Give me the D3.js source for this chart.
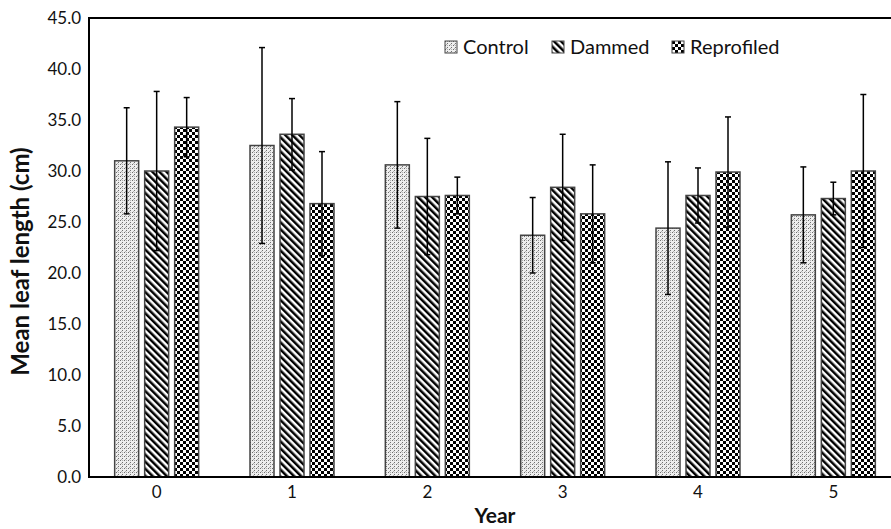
<!DOCTYPE html>
<html>
<head>
<meta charset="utf-8">
<script src="https://cdn.jsdelivr.net/npm/d3@7"></script>
<style>
  body { margin: 0; background: #fff; }
  svg { display: block; font-family: Lato, "Open Sans", sans-serif; }
</style>
</head>
<body>
<div id="chart"></div>
<script>
// chart values
var years = ["0", "1", "2", "3", "4", "5"];
var seriesNames = ["Control", "Dammed", "Reprofiled"];
var control = [31.0, 32.5, 30.6, 23.7, 24.4, 25.7];
var controlErr = [5.2, 9.6, 6.2, 3.7, 6.5, 4.7];
var dammed = [30.0, 33.6, 27.5, 28.4, 27.6, 27.3];
var dammedErr = [7.8, 3.5, 5.7, 5.2, 2.7, 1.6];
var reprofiled = [34.3, 26.8, 27.6, 25.8, 29.9, 30.0];
var reprofiledErr = [2.9, 5.1, 1.8, 4.8, 5.4, 7.5];
var yTicks = [0, 5, 10, 15, 20, 25, 30, 35, 40, 45];

var canvas_width = 891;
var canvas_height = 529;
var left = 89, top_ = 18, right = 901, bottom = 477;

var svg = d3.select("#chart")
    .append("svg")
    .attr("width", canvas_width)
    .attr("height", canvas_height);

// fill patterns
var defs = svg.append("defs");

var stip = defs.append("pattern")
    .attr("id", "pat-Control")
    .attr("patternUnits", "userSpaceOnUse")
    .attr("width", 4).attr("height", 4);
stip.append("rect").attr("width", 4).attr("height", 4).attr("fill", "#eeeeee");
[[0, 0], [2, 2], [2, 0], [1, 3]].forEach(function(p, i) {
  stip.append("rect").attr("x", p[0]).attr("y", p[1])
    .attr("width", 1).attr("height", 1)
    .attr("fill", i < 2 ? "#6e6e6e" : "#b0b0b0");
});

var diag = defs.append("pattern")
    .attr("id", "pat-Dammed")
    .attr("patternUnits", "userSpaceOnUse")
    .attr("width", 5).attr("height", 10)
    .attr("patternTransform", "rotate(-45)");
diag.append("rect").attr("width", 5).attr("height", 10).attr("fill", "#fff");
diag.append("rect").attr("width", 2.5).attr("height", 10).attr("fill", "#000");

var chk = defs.append("pattern")
    .attr("id", "pat-Reprofiled")
    .attr("patternUnits", "userSpaceOnUse")
    .attr("width", 6).attr("height", 6);
chk.append("rect").attr("width", 6).attr("height", 6).attr("fill", "#fff");
chk.append("rect").attr("width", 3).attr("height", 3).attr("fill", "#000");
chk.append("rect").attr("x", 3).attr("y", 3).attr("width", 3).attr("height", 3).attr("fill", "#000");

// scales
var x = d3.scaleBand().domain(years).range([left, right]).padding(0);
var xSub = d3.scaleBand().domain(seriesNames)
    .range([-42, 42]).paddingInner(0.2).paddingOuter(0);
var y = d3.scaleLinear().domain([0, 45]).range([bottom, top_]);

var valueSets = [control, dammed, reprofiled];
var errSets = [controlErr, dammedErr, reprofiledErr];

var data = [];
years.forEach(function(yr, i) {
  seriesNames.forEach(function(s, j) {
    data.push({ year: yr, series: s, value: valueSets[j][i], err: errSets[j][i] });
  });
});

// plot frame
svg.append("rect")
    .attr("x", left).attr("y", top_)
    .attr("width", right - left).attr("height", bottom - top_)
    .attr("fill", "none")
    .attr("stroke", "#000")
    .attr("stroke-width", 2);

// bars
svg.selectAll(".bar")
    .data(data)
  .enter().append("rect")
    .attr("class", "bar")
    .attr("x", function(d) { return x(d.year) + x.bandwidth() / 2 + xSub(d.series); })
    .attr("y", function(d) { return y(d.value); })
    .attr("width", xSub.bandwidth())
    .attr("height", function(d) { return y(0) - y(d.value); })
    .attr("fill", function(d) { return "url(#pat-" + d.series + ")"; })
    .attr("stroke", "#444")
    .attr("stroke-width", 1.5);

// error bars
var eb = svg.selectAll(".err")
    .data(data)
  .enter().append("g")
    .attr("class", "err")
    .attr("transform", function(d) {
      return "translate(" + (x(d.year) + x.bandwidth() / 2 + xSub(d.series) + xSub.bandwidth() / 2) + ",0)";
    });
eb.append("line")
    .attr("y1", function(d) { return y(d.value + d.err); })
    .attr("y2", function(d) { return y(d.value - d.err); })
    .attr("stroke", "#000").attr("stroke-width", 1.5);
eb.append("line")
    .attr("x1", -3).attr("x2", 3)
    .attr("y1", function(d) { return y(d.value + d.err); })
    .attr("y2", function(d) { return y(d.value + d.err); })
    .attr("stroke", "#000").attr("stroke-width", 1.5);
eb.append("line")
    .attr("x1", -3).attr("x2", 3)
    .attr("y1", function(d) { return y(d.value - d.err); })
    .attr("y2", function(d) { return y(d.value - d.err); })
    .attr("stroke", "#000").attr("stroke-width", 1.5);

// axes (no tick marks)
var yAxis = svg.append("g")
    .attr("transform", "translate(" + left + ",0)")
    .call(d3.axisLeft(y).tickValues(yTicks).tickFormat(d3.format(".1f")).tickSize(0).tickPadding(8));
yAxis.select(".domain").remove();
yAxis.selectAll("text").attr("font-size", "17px").attr("fill", "#111")
    .style("font-family", "Lato, sans-serif");

var xAxis = svg.append("g")
    .attr("transform", "translate(0," + bottom + ")")
    .call(d3.axisBottom(x).tickSize(0).tickPadding(9));
xAxis.select(".domain").remove();
xAxis.selectAll("text").attr("font-size", "17px").attr("fill", "#111")
    .style("font-family", "Lato, sans-serif");

// bottom axis line drawn on top of bars
svg.append("line")
    .attr("x1", left).attr("x2", right)
    .attr("y1", bottom).attr("y2", bottom)
    .attr("stroke", "#000").attr("stroke-width", 2);

// axis titles
svg.append("text")
    .attr("transform", "translate(29," + ((top_ + bottom) / 2 + 14) + ") rotate(-90)")
    .attr("text-anchor", "middle")
    .attr("font-size", "24px")
    .attr("font-weight", "bold")
    .attr("fill", "#111")
    .text("Mean leaf length (cm)");

svg.append("text")
    .attr("x", (left + right) / 2)
    .attr("y", 523)
    .attr("text-anchor", "middle")
    .attr("font-size", "21px")
    .attr("font-weight", "bold")
    .attr("fill", "#111")
    .text("Year");

// legend
var legendX = [445, 552, 672];
var legend = svg.selectAll(".legend")
    .data(seriesNames)
  .enter().append("g")
    .attr("class", "legend")
    .attr("transform", function(d, i) { return "translate(" + legendX[i] + ",41)"; });
legend.append("rect")
    .attr("width", 12).attr("height", 12)
    .attr("fill", function(d) { return "url(#pat-" + d + ")"; })
    .attr("stroke", "#444").attr("stroke-width", 1);
legend.append("text")
    .attr("x", 18).attr("y", 13)
    .attr("font-size", "20px")
    .attr("fill", "#111")
    .text(function(d) { return d; });
</script>
</body>
</html>
